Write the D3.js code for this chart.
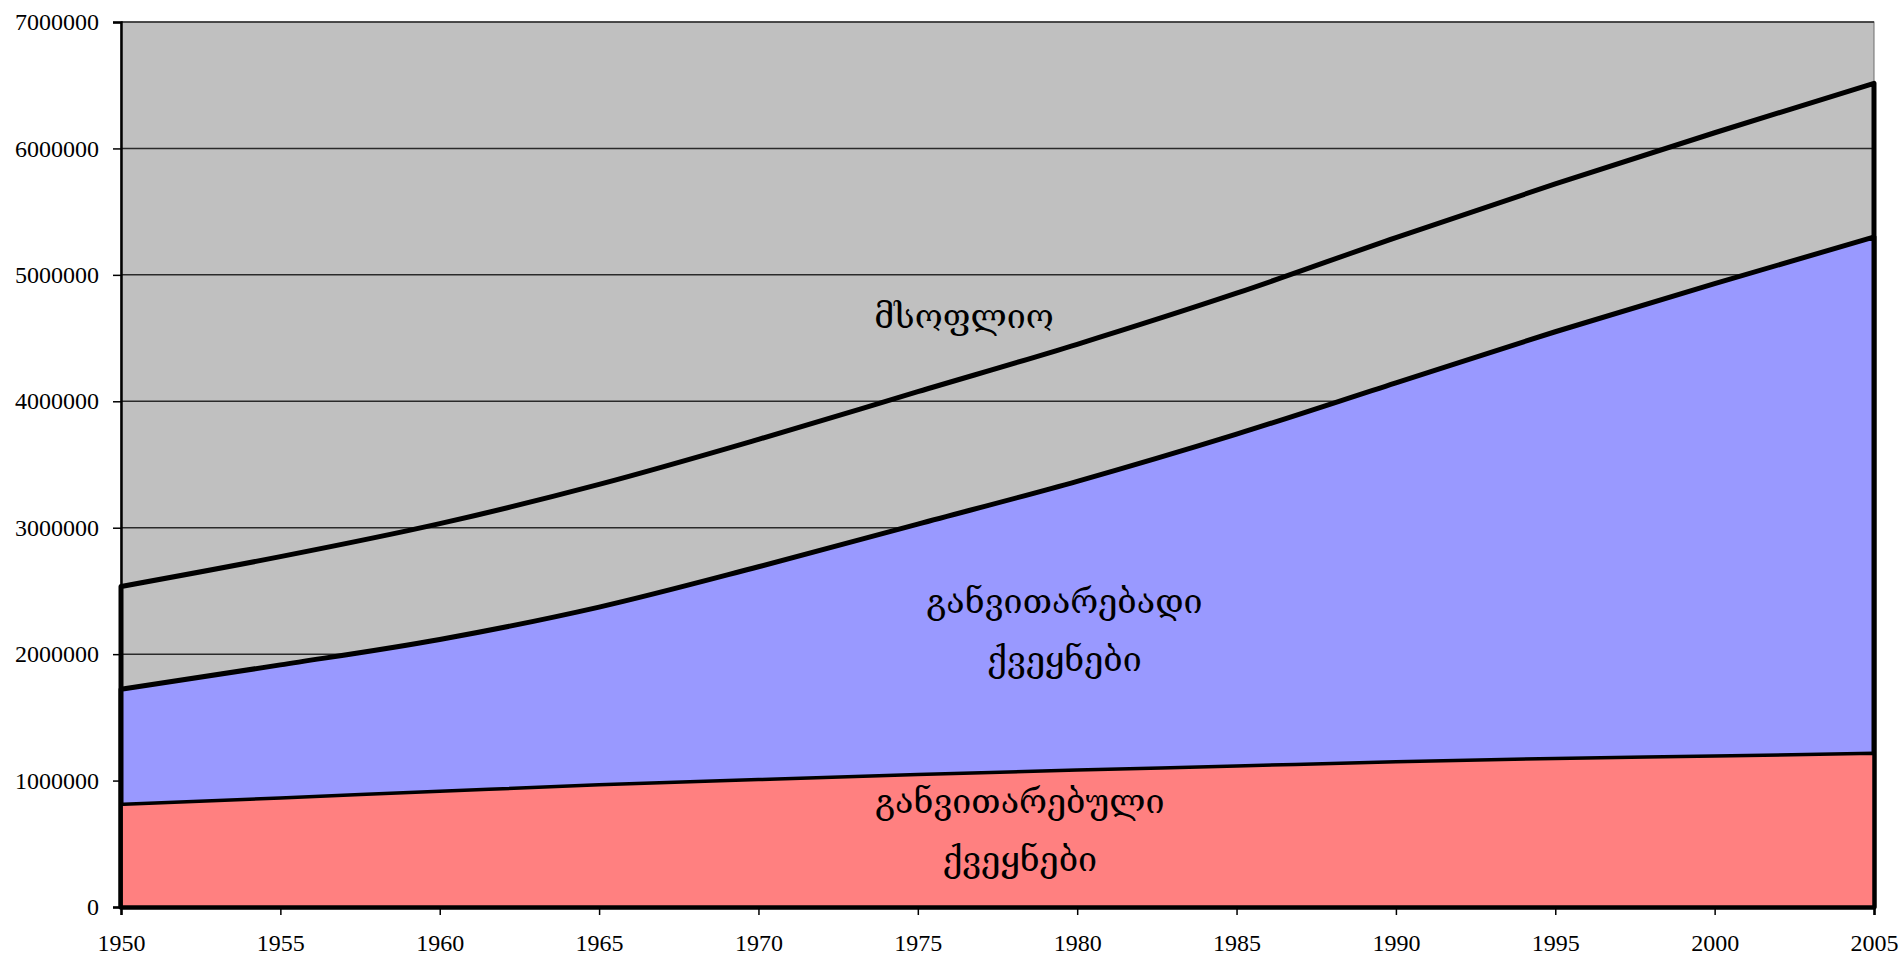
<!DOCTYPE html>
<html>
<head>
<meta charset="utf-8">
<script src="https://cdn.jsdelivr.net/npm/d3@7"></script>
<style>
  body { margin: 0; background: #fff; }
  .axis text { font-family: "Liberation Serif", serif; font-size: 24px; fill: #000; }
  .label { font-family: "DejaVu Serif", "DejaVu Sans", serif; font-size: 34px; fill: #000; }
</style>
</head>
<body>
<script>
/* population, thousands */
const years = [1950, 1955, 1960, 1965, 1970, 1975, 1980, 1985, 1990, 1995, 2000, 2005];
const world = [2535000, 2771000, 3032000, 3343000, 3699000, 4076000, 4451000, 4855000, 5295000, 5719000, 6124000, 6515000];
const developing = [1722000, 1915000, 2116000, 2372000, 2691000, 3029000, 3367000, 3740000, 4146000, 4550000, 4931000, 5299000];
const developed = [812000, 863000, 915000, 966000, 1008000, 1048000, 1083000, 1115000, 1149000, 1175000, 1194000, 1216000];

const yTicks = [0, 1000000, 2000000, 3000000, 4000000, 5000000, 6000000, 7000000];
const xTicks = [1950, 1955, 1960, 1965, 1970, 1975, 1980, 1985, 1990, 1995, 2000, 2005];

const labels = [
  { lines: ["მსოფლიო"], year: 1976.45, value: 4580000 },
  { lines: ["განვითარებადი", "ქვეყნები"], year: 1979.6, value: 2325000 },
  { lines: ["განვითარებული", "ქვეყნები"], year: 1978.2, value: 745000 }
];

/* canvas */
const width = 1902;
const height = 959;
const plot = { left: 121, right: 1874, top: 22, bottom: 907 };

const svg = d3.select('body').append('svg')
      .attr('width', width).attr('height', height);

const xScale = d3.scaleLinear().domain([1950, 2005]).range([plot.left, plot.right]);
const yScale = d3.scaleLinear().domain([0, 7000000]).range([plot.bottom, plot.top]);

/* plot background */
svg.append('rect')
   .attr('x', plot.left).attr('y', plot.top)
   .attr('width', plot.right - plot.left).attr('height', plot.bottom - plot.top)
   .attr('fill', '#c0c0c0').attr('stroke', '#6e6e6e').attr('stroke-width', 1);

/* gridlines */
svg.append('g').selectAll('line').data(yTicks.slice(1)).enter().append('line')
   .attr('x1', plot.left).attr('x2', plot.right)
   .attr('y1', d => yScale(d)).attr('y2', d => yScale(d))
   .attr('stroke', '#2a2a2a').attr('stroke-width', 1.5);

/* areas */
const series = [
  { values: world, fill: 'none', sw: 5 },
  { values: developing, fill: '#9999ff', sw: 5 },
  { values: developed, fill: '#ff8080', sw: 3.5 }
];

series.forEach(s => {
  const pts = years.map((y, i) => ({ year: y, v: s.values[i] }));
  const area = d3.area()
        .x(d => xScale(d.year))
        .y0(yScale(0))
        .y1(d => yScale(d.v))
        .curve(d3.curveMonotoneX);
  svg.append('path').datum(pts)
     .attr('d', area)
     .attr('fill', s.fill)
     .attr('stroke', '#000')
     .attr('stroke-width', s.sw)
     .attr('stroke-linejoin', 'round');
});

/* axes */
const yAxis = svg.append('g').attr('class', 'axis')
      .attr('transform', 'translate(' + plot.left + ',0)')
      .call(d3.axisLeft(yScale).tickValues(yTicks).tickFormat(d3.format('d'))
            .tickSize(8).tickPadding(14));

const xAxis = svg.append('g').attr('class', 'axis')
      .attr('transform', 'translate(0,' + plot.bottom + ')')
      .call(d3.axisBottom(xScale).tickValues(xTicks).tickFormat(d3.format('d'))
            .tickSize(8).tickPadding(19));

svg.selectAll('.axis .domain').attr('stroke', '#000').attr('stroke-width', 2.5);
svg.selectAll('.axis .tick line').attr('stroke', '#000').attr('stroke-width', 1.5);

/* area labels */
labels.forEach(l => {
  const t = svg.append('text').attr('class', 'label')
        .attr('text-anchor', 'middle')
        .attr('x', xScale(l.year)).attr('y', yScale(l.value));
  l.lines.forEach((line, i) => {
    t.append('tspan').attr('x', xScale(l.year)).attr('dy', i === 0 ? 0 : 58).text(line);
  });
});
</script>
</body>
</html>
